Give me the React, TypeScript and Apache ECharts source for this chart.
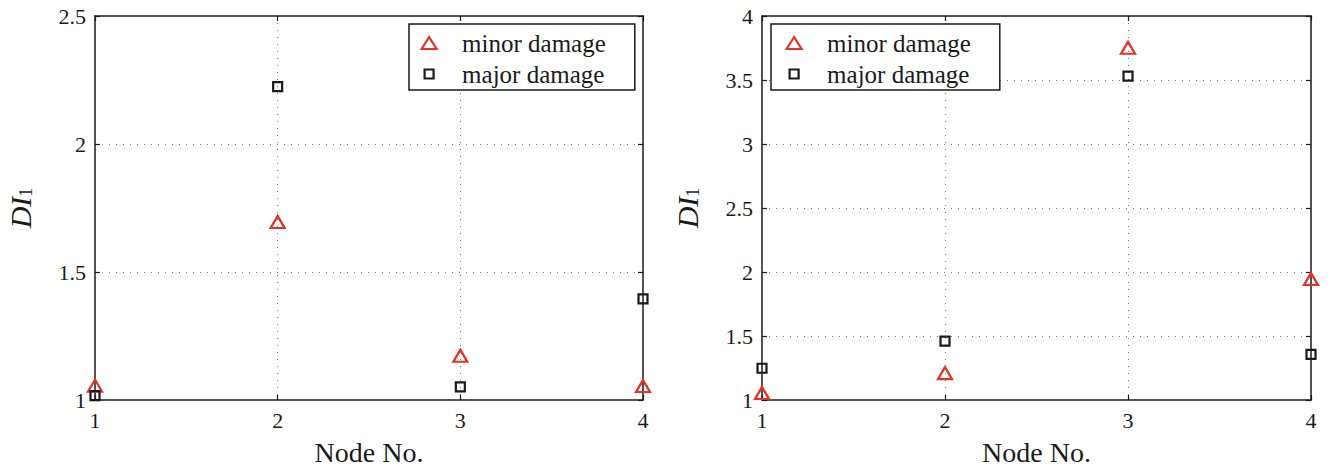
import React, { useEffect, useRef } from "react";
import * as echarts from "echarts";

// Node numbers along the horizontal axis
const nodes = [1, 2, 3, 4];
const xTicks = { min: 1, max: 4, interval: 1 };

// Left panel: damage index DI1 per node
const leftMinor = [1.056, 1.695, 1.173, 1.055];
const leftMajor = [1.017, 2.224, 1.051, 1.395];
const leftY = { min: 1, max: 2.5, interval: 0.5 };

// Right panel: damage index DI1 per node
const rightMinor = [1.055, 1.21, 3.752, 1.945];
const rightMajor = [1.248, 1.46, 3.53, 1.357];
const rightY = { min: 1, max: 4, interval: 0.5 };

const seriesNames = ["minor damage", "major damage"];

const FONT = "Liberation Serif, Times New Roman, serif";
const INK = "#1a1a1a";
const RED = "#e53228";

const TRI_ICON = "path://M0,0M40,14M4.5,13L12,1L19.5,13Z";
const SQ_ICON = "path://M0,0M40,14M7.5,2.5h9v9h-9Z";

const pairs = (vals: number[]) => nodes.map((n, i) => [n, vals[i]]);

export default function App() {
  const ref = useRef<HTMLDivElement>(null);

  useEffect(() => {
    if (!ref.current) return;
    const chart = echarts.init(ref.current, undefined, { renderer: "svg" });

    const grids = [
      { left: 95, right: 692, top: 16, bottom: 71 },
      { left: 762, right: 24, top: 16, bottom: 71 },
    ];

    const axisLine = { show: true, onZero: false, lineStyle: { color: INK, width: 1.5 } };
    const axisTick = { show: true, inside: true, length: 5, lineStyle: { color: INK, width: 1.2 } };
    const splitLine = {
      show: true,
      showMinLine: false,
      showMaxLine: false,
      lineStyle: { color: "#777", width: 1, type: [1, 6] },
    };
    const label = { fontFamily: FONT, fontSize: 22, color: INK };

    const xAxis: any[] = [];
    const yAxis: any[] = [];
    [leftY, rightY].forEach((yr, g) => {
      xAxis.push({
        gridIndex: g,
        type: "value",
        position: "bottom",
        ...xTicks,
        name: "Node No.",
        nameLocation: "middle",
        nameGap: 38,
        nameTextStyle: { fontFamily: FONT, fontSize: 28, color: INK },
        axisLine,
        axisTick,
        axisLabel: { ...label, margin: 9 },
        splitLine,
      });
      xAxis.push({
        gridIndex: g,
        type: "value",
        position: "top",
        ...xTicks,
        axisLine,
        axisTick,
        axisLabel: { show: false },
        splitLine: { show: false },
      });
      yAxis.push({
        gridIndex: g,
        type: "value",
        position: "left",
        ...yr,
        name: "{i|DI}{s|1}",
        nameLocation: "middle",
        nameRotate: 90,
        nameGap: 60,
        nameTextStyle: {
          fontFamily: FONT,
          rich: {
            i: { fontFamily: FONT, fontStyle: "italic", fontSize: 30, color: INK, lineHeight: 30, verticalAlign: "middle" },
            s: { fontFamily: FONT, fontSize: 18, color: INK, lineHeight: 18, verticalAlign: "bottom" },
          },
        },
        axisLine,
        axisTick,
        axisLabel: { ...label, margin: 9 },
        splitLine,
      });
      yAxis.push({
        gridIndex: g,
        type: "value",
        position: "right",
        ...yr,
        axisLine,
        axisTick,
        axisLabel: { show: false },
        splitLine: { show: false },
      });
    });

    const minorStyle = { color: "rgba(255,255,255,0)", borderColor: RED, borderWidth: 2.2, opacity: 1 };
    const majorStyle = { color: "rgba(255,255,255,0)", borderColor: INK, borderWidth: 2.2, opacity: 1 };

    const makeSeries = (g: number, minor: number[], major: number[]) => [
      {
        type: "scatter",
        name: seriesNames[0],
        xAxisIndex: g * 2,
        yAxisIndex: g * 2,
        data: pairs(minor),
        symbol: "triangle",
        symbolSize: [14, 12],
        itemStyle: minorStyle,
        clip: false,
        z: 5,
      },
      {
        type: "scatter",
        name: seriesNames[1],
        xAxisIndex: g * 2,
        yAxisIndex: g * 2,
        data: pairs(major),
        symbol: "rect",
        symbolSize: 9,
        itemStyle: majorStyle,
        clip: false,
        z: 5,
      },
    ];

    const legendData = [
      { name: seriesNames[0], icon: TRI_ICON, itemStyle: minorStyle },
      { name: seriesNames[1], icon: SQ_ICON, itemStyle: majorStyle },
    ];
    const legendBase = {
      orient: "vertical",
      top: 24,
      itemWidth: 40,
      itemHeight: 14,
      itemGap: 3,
      padding: [5, 29, 2, 7],
      backgroundColor: "#fff",
      borderColor: INK,
      borderWidth: 1.5,
      borderRadius: 0,
      selectedMode: false,
      textStyle: { fontFamily: FONT, fontSize: 25, lineHeight: 28, color: INK },
      data: legendData,
      z: 10,
    };

    chart.setOption({
      animation: false,
      backgroundColor: "#fff",
      textStyle: { fontFamily: FONT },
      grid: grids,
      xAxis,
      yAxis,
      legend: [
        { ...legendBase, left: 409 },
        { ...legendBase, left: 771, padding: [5, 29, 2, 10] },
      ],
      series: [...makeSeries(0, leftMinor, leftMajor), ...makeSeries(1, rightMinor, rightMajor)],
    });

    return () => chart.dispose();
  }, []);

  return (
    <div
      ref={ref}
      style={{ position: "absolute", left: 0, top: 0, width: 1335, height: 471 }}
    />
  );
}
